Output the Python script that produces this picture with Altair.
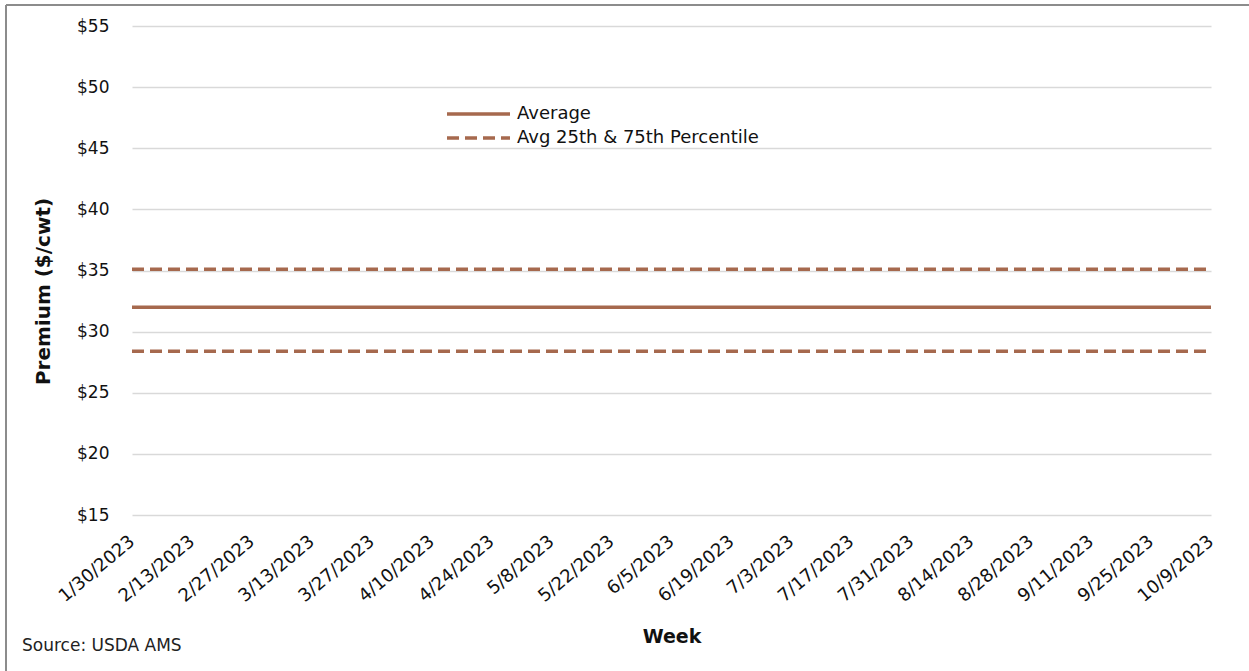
import altair as alt
import pandas as pd

# Weekly report dates shown on the category axis
weeks = [
    "1/30/2023", "2/13/2023", "2/27/2023", "3/13/2023", "3/27/2023",
    "4/10/2023", "4/24/2023", "5/8/2023", "5/22/2023", "6/5/2023",
    "6/19/2023", "7/3/2023", "7/17/2023", "7/31/2023", "8/14/2023",
    "8/28/2023", "9/11/2023", "9/25/2023", "10/9/2023",
]

# Premium ($/cwt) series
average = [32.0, 32.0, 32.0, 32.0, 32.0, 32.0, 32.0, 32.0, 32.0, 32.0,
           32.0, 32.0, 32.0, 32.0, 32.0, 32.0, 32.0, 32.0, 32.0]
pct25 = [28.4, 28.4, 28.4, 28.4, 28.4, 28.4, 28.4, 28.4, 28.4, 28.4,
         28.4, 28.4, 28.4, 28.4, 28.4, 28.4, 28.4, 28.4, 28.4]
pct75 = [35.1, 35.1, 35.1, 35.1, 35.1, 35.1, 35.1, 35.1, 35.1, 35.1,
         35.1, 35.1, 35.1, 35.1, 35.1, 35.1, 35.1, 35.1, 35.1]

y_ticks = [15, 20, 25, 30, 35, 40, 45, 50, 55]

SERIES_AVG = "Average"
SERIES_PCT = "Avg 25th & 75th Percentile"

avg_df = pd.DataFrame({"week": weeks, "premium": average, "series": SERIES_AVG, "line": "avg"})
pct_df = pd.concat([
    pd.DataFrame({"week": weeks, "premium": pct25, "series": SERIES_PCT, "line": "p25"}),
    pd.DataFrame({"week": weeks, "premium": pct75, "series": SERIES_PCT, "line": "p75"}),
], ignore_index=True)

FONT = "DejaVu Sans"
BROWN = "#A6694E"
W, H = 1079, 489

x_enc = alt.X(
    "week:O",
    sort=weeks,
    scale=alt.Scale(padding=0),
    axis=alt.Axis(
        title="Week",
        labelAngle=-40,
        labelAlign="right",
        labelBaseline="middle",
        labelPadding=24,
        labelFontSize=18,
        labelColor="#111111",
        labelFont=FONT,
        domain=False,
        ticks=False,
        grid=False,
        titleFont=FONT,
        titleFontSize=19,
        titleFontWeight="bold",
        titleColor="#111111",
        titleY=121,
        titleBaseline="middle",
    ),
)

y_enc = alt.Y(
    "premium:Q",
    scale=alt.Scale(domain=[15, 55], nice=False, zero=False),
    axis=alt.Axis(
        title="Premium ($/cwt)",
        values=y_ticks,
        labelExpr="'$' + datum.value",
        labelFontSize=17,
        labelFont=FONT,
        labelColor="#111111",
        labelPadding=23,
        domain=False,
        ticks=False,
        grid=True,
        gridColor="#D9D9D9",
        gridWidth=1.5,
        titleFont=FONT,
        titleFontSize=20,
        titleFontWeight="bold",
        titleColor="#111111",
        titleAngle=-90,
        titleX=-89,
        titleY=265,
        titleAlign="center",
        titleBaseline="middle",
    ),
)


def legend_at(y):
    return alt.Legend(
        title=None,
        orient="none",
        legendX=313,
        legendY=y,
        symbolType="stroke",
        symbolSize=3969,
        symbolStrokeWidth=3.5,
        symbolStrokeColor=BROWN,
        labelFont=FONT,
        labelFontSize=18,
        labelColor="#111111",
        labelOffset=5,
        labelLimit=500,
        padding=0,
    )


avg_line = alt.Chart(avg_df).mark_line(strokeWidth=3.5, color=BROWN).encode(
    x=x_enc,
    y=y_enc,
    strokeDash=alt.StrokeDash(
        "series:N",
        scale=alt.Scale(domain=[SERIES_AVG], range=[[1, 0]]),
        legend=legend_at(54.5),
    ),
)

pct_lines = alt.Chart(pct_df).mark_line(strokeWidth=3.5, color=BROWN).encode(
    x=x_enc,
    y=y_enc,
    strokeDash=alt.StrokeDash(
        "series:N",
        scale=alt.Scale(domain=[SERIES_PCT], range=[[12, 6]]),
        legend=legend_at(78.5),
    ),
    detail="line:N",
)

# Outer frame along the top and left edges
frame_top = alt.Chart(pd.DataFrame({"k": [0]})).mark_rule(
    color="#8C8C8C", strokeWidth=2
).encode(x=alt.value(-126), x2=alt.value(W + 38), y=alt.value(-21))
frame_left = alt.Chart(pd.DataFrame({"k": [0]})).mark_rule(
    color="#8C8C8C", strokeWidth=2
).encode(x=alt.value(-126), y=alt.value(-21), y2=alt.value(H + 156))

chart = (
    alt.layer(avg_line, pct_lines, frame_top, frame_left)
    .resolve_scale(strokeDash="independent")
    .resolve_legend(strokeDash="independent")
    .properties(
        width=W,
        height=H,
        title=alt.TitleParams(
            "Source: USDA AMS",
            orient="bottom",
            anchor="start",
            frame="group",
            dx=-110,
            dy=-34,
            offset=0,
            font=FONT,
            fontSize=17,
            fontWeight="normal",
            color="#222222",
        ),
        padding={"left": 132, "top": 26, "right": 38, "bottom": 156},
        autosize=alt.AutoSizeParams(type="none"),
        background="white",
    )
    .configure_view(stroke=None)
)

chart.save("out.html", embed_options={"renderer": "svg", "actions": False})
